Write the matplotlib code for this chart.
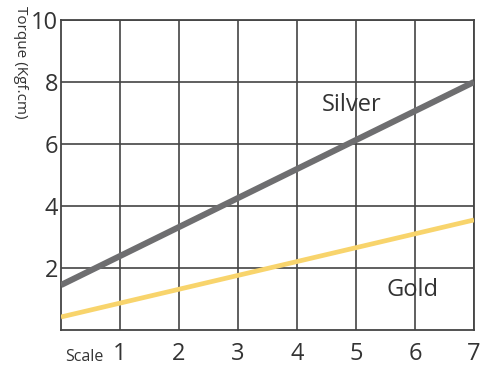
import matplotlib.pyplot as plt

# chart data
scale = [0, 7]
silver = [1.45, 8.0]
gold = [0.42, 3.55]
x_ticks = [1, 2, 3, 4, 5, 6, 7]
y_ticks = [2, 4, 6, 8, 10]

plt.rcParams['font.family'] = ['Open Sans', 'DejaVu Sans']

fig = plt.figure(figsize=(4.8, 3.66), dpi=100)
ax = fig.add_axes([61 / 480, 36 / 366, 413 / 480, 310 / 366])

ax.plot(scale, silver, color='#6e6e70', lw=4.4, solid_capstyle='butt', zorder=3)
ax.plot(scale, gold, color='#f8d46c', lw=3.4, solid_capstyle='butt', zorder=3)

ax.set_xlim(0, 7)
ax.set_ylim(0, 10)
ax.set_xticks(x_ticks)
ax.set_yticks(y_ticks)
ax.set_xticklabels([str(t) for t in x_ticks], fontsize=17, color='#333333')
ax.set_yticklabels([str(t) for t in y_ticks], fontsize=17, color='#333333')
ax.tick_params(length=0, pad=2)
ax.tick_params(axis='x', pad=9)
ax.grid(True, color='#444444', lw=1.2)
ax.set_axisbelow(True)
for s in ax.spines.values():
    s.set_color('#444444')
    s.set_linewidth(1.3)

ax.text(4.93, 7.25, 'Silver', fontsize=17, color='#333333', ha='center', va='center')
ax.text(5.95, 1.3, 'Gold', fontsize=17, color='#333333', ha='center', va='center')

fig.text(84 / 480, 1 - 357 / 366, 'Scale', fontsize=11.5, color='#333333', ha='center', va='center')
fig.text(20 / 480, 1 - 62 / 366, 'Torque (Kgf.cm)', fontsize=11, color='#333333',
         rotation=270, ha='center', va='center')

fig.savefig('out.png', dpi=100)
